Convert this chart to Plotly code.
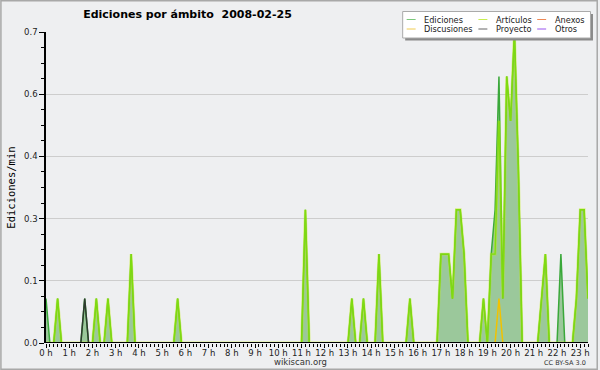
import plotly.graph_objects as go

# ---- data (10-minute bins, edits per minute) ----
bin_minutes = list(range(0, 1410, 10))          # 00:00 .. 23:20
bin_hours = [m / 60 for m in bin_minutes]

ediciones = [
    0.1, 0, 0, 0.1, 0, 0, 0, 0, 0, 0, 0.1, 0,
    0, 0.1, 0, 0, 0.1, 0, 0, 0, 0, 0, 0.2, 0,
    0, 0, 0, 0, 0, 0, 0, 0, 0, 0, 0.1, 0,
    0, 0, 0, 0, 0, 0, 0, 0, 0, 0, 0, 0,
    0, 0, 0, 0, 0, 0, 0, 0, 0, 0, 0, 0,
    0, 0, 0, 0, 0, 0, 0, 0.3, 0, 0, 0, 0,
    0, 0, 0, 0, 0, 0, 0, 0.1, 0, 0, 0.1, 0,
    0, 0, 0.2, 0, 0, 0, 0, 0, 0, 0, 0.1, 0,
    0, 0, 0, 0, 0, 0, 0.2, 0.2, 0.2, 0.1, 0.3, 0.3,
    0.2, 0, 0, 0, 0, 0.1, 0, 0.2, 0.3, 0.6, 0.1, 0.6,
    0.5, 0.7, 0.4, 0, 0, 0, 0, 0, 0.1, 0.2, 0, 0,
    0, 0.2, 0, 0, 0, 0.1, 0.3, 0.3, 0.1,
]
articulos = [
    0, 0, 0, 0.1, 0, 0, 0, 0, 0, 0, 0, 0,
    0, 0.1, 0, 0, 0.1, 0, 0, 0, 0, 0, 0.2, 0,
    0, 0, 0, 0, 0, 0, 0, 0, 0, 0, 0.1, 0,
    0, 0, 0, 0, 0, 0, 0, 0, 0, 0, 0, 0,
    0, 0, 0, 0, 0, 0, 0, 0, 0, 0, 0, 0,
    0, 0, 0, 0, 0, 0, 0, 0.3, 0, 0, 0, 0,
    0, 0, 0, 0, 0, 0, 0, 0.1, 0, 0, 0.1, 0,
    0, 0, 0.2, 0, 0, 0, 0, 0, 0, 0, 0.1, 0,
    0, 0, 0, 0, 0, 0, 0.2, 0.2, 0.2, 0.1, 0.3, 0.3,
    0.2, 0, 0, 0, 0, 0.1, 0, 0.2, 0.2, 0.5, 0.1, 0.6,
    0.5, 0.7, 0.4, 0, 0, 0, 0, 0, 0.1, 0.2, 0, 0,
    0, 0, 0, 0, 0, 0.1, 0.3, 0.3, 0.1,
]
discusiones = [0] * 117 + [0.1] + [0] * 23
proyecto = [0] * 10 + [0.1] + [0] * 130
anexos = [0] * 141
otros = [0] * 141

hour_ticks = list(range(24))
hour_labels = [f"{h} h" for h in hour_ticks]
y_tickvals = [0, 0.14, 0.28, 0.42, 0.56, 0.7]
y_ticktext = ["0.0", "0.1", "0.3", "0.4", "0.6", "0.7"]

series_names = ["Ediciones", "Artículos", "Anexos", "Discusiones", "Proyecto", "Otros"]
series_colors = ["#3aa83a", "#8ee414", "#ee7733", "#f2c200", "#2e3a2e", "#9944ee"]
legend_colors = ["#7cc87c", "#c8ee50", "#ee8855", "#f0cc50", "#666666", "#9955ee"]

# ---- figure ----
W, H = 600, 370
L, R, T, B = 46, 10, 32, 27
PW, PH = W - L - R, H - T - B


def px(x):
    return (x - L) / PW


def py(y):
    return (H - B - y) / PH


BG = "#eeeff1"
fig = go.Figure()

fig.add_trace(go.Scatter(x=bin_hours, y=ediciones, mode="lines", fill="tozeroy",
                         fillcolor="#9bc89b", line=dict(color=series_colors[0], width=1.5),
                         name="Ediciones", showlegend=False))
fig.add_trace(go.Scatter(x=bin_hours, y=anexos, mode="lines",
                         line=dict(color=series_colors[2], width=1.5), showlegend=False))
fig.add_trace(go.Scatter(x=bin_hours, y=otros, mode="lines",
                         line=dict(color=series_colors[5], width=1.5), showlegend=False))
fig.add_trace(go.Scatter(x=bin_hours, y=articulos, mode="lines",
                         line=dict(color="rgba(190,240,0,0.45)", width=2.8), showlegend=False))
fig.add_trace(go.Scatter(x=bin_hours, y=articulos, mode="lines",
                         line=dict(color="#7fdc10", width=1.2), showlegend=False))
fig.add_trace(go.Scatter(x=bin_hours, y=discusiones, mode="lines",
                         line=dict(color=series_colors[3], width=1.5), showlegend=False))
fig.add_trace(go.Scatter(x=bin_hours, y=proyecto, mode="lines",
                         line=dict(color=series_colors[4], width=1.5), showlegend=False))

shapes = []
annotations = []

# x axis line drawn over the zero lines
shapes.append(dict(type="line", xref="paper", yref="y", x0=0, x1=1, y0=0, y1=0,
                   line=dict(color="black", width=2), layer="above"))

# legend box (drawn by hand: 3 columns x 2 rows)
shapes.append(dict(type="rect", xref="paper", yref="paper",
                   x0=px(406.5), x1=px(595), y0=py(14), y1=py(40.5),
                   fillcolor="#8a8a8a", line=dict(width=0), layer="above"))
shapes.append(dict(type="rect", xref="paper", yref="paper",
                   x0=px(404), x1=px(592.5), y0=py(11.5), y1=py(38),
                   fillcolor="white", line=dict(color="#aaaaaa", width=1), layer="above"))
col_line_x = [(408, 417), (480, 489), (539, 548)]
col_text_x = [423.5, 496, 554.5]
row_y = [19.5, 29]
legend_order = [(0, 0, 0), (1, 0, 1), (2, 0, 2), (3, 1, 0), (4, 1, 1), (5, 1, 2)]
for k, r, c in legend_order:
    shapes.append(dict(type="line", xref="paper", yref="paper",
                       x0=px(col_line_x[c][0]), x1=px(col_line_x[c][1]),
                       y0=py(row_y[r]), y1=py(row_y[r]),
                       line=dict(color=legend_colors[k], width=1), layer="above"))
    annotations.append(dict(text=series_names[k], xref="paper", yref="paper",
                            x=px(col_text_x[c]), y=py(row_y[r]), xanchor="left", yanchor="middle",
                            showarrow=False, font=dict(family="DejaVu Sans", size=8.2, color="#222")))

# outer frame
shapes.append(dict(type="rect", xref="paper", yref="paper",
                   x0=px(0.75), x1=px(599.25), y0=py(0.75), y1=py(369.25),
                   line=dict(color="#a8a8a8", width=1.5), layer="above"))

# y axis title
annotations.append(dict(text="Ediciones/min", xref="paper", yref="paper",
                        x=px(10), y=0.5, xanchor="center", yanchor="middle", textangle=-90,
                        showarrow=False, font=dict(family="DejaVu Sans Mono", size=10.5, color="black")))
# footer
annotations.append(dict(text="wikiscan.org", xref="paper", yref="paper",
                        x=px(301), y=py(362), xanchor="center", yanchor="middle",
                        showarrow=False, font=dict(family="DejaVu Sans", size=8.5, color="#333")))
annotations.append(dict(text="CC BY-SA 3.0", xref="paper", yref="paper",
                        x=px(590), y=py(362.5), xanchor="right", yanchor="middle",
                        showarrow=False, font=dict(family="DejaVu Sans", size=6.5, color="#333")))

fig.update_layout(
    width=W, height=H,
    margin=dict(l=L, r=R, t=T, b=B, pad=0),
    paper_bgcolor=BG, plot_bgcolor=BG,
    showlegend=False,
    title=dict(text="<b>Ediciones por ámbito  2008-02-25</b>", x=187.5 / W, xanchor="center",
               y=1 - 14.5 / H, yanchor="middle",
               font=dict(family="DejaVu Sans", size=11, color="black")),
    shapes=shapes,
    annotations=annotations,
    xaxis=dict(range=[0, bin_hours[-1]], tickmode="array", tickvals=hour_ticks, ticktext=hour_labels,
               showgrid=False, zeroline=False, showline=False,
               ticks="outside", ticklen=4, tickcolor="black", tickwidth=1,
               ticklabelstandoff=-2,
               tickfont=dict(family="DejaVu Sans", size=8.5, color="#222"),
               minor=dict(dtick=1 / 6, tick0=0, ticks="outside", ticklen=3, tickcolor="black",
                          showgrid=False)),
    yaxis=dict(range=[0, 0.7], tickmode="array", tickvals=y_tickvals, ticktext=y_ticktext,
               showgrid=True, gridcolor="#cdcdcd", gridwidth=1, zeroline=False,
               showline=True, linecolor="black", linewidth=1.5,
               ticks="outside", ticklen=5, tickcolor="black", tickwidth=1,
               tickfont=dict(family="DejaVu Sans", size=8.5, color="#222"),
               minor=dict(dtick=0.035, tick0=0, ticks="outside", ticklen=3, tickcolor="black",
                          showgrid=False)),
)

fig.write_html("out.html", config={"displayModeBar": False},
               post_script="document.body.style.margin='0';")
